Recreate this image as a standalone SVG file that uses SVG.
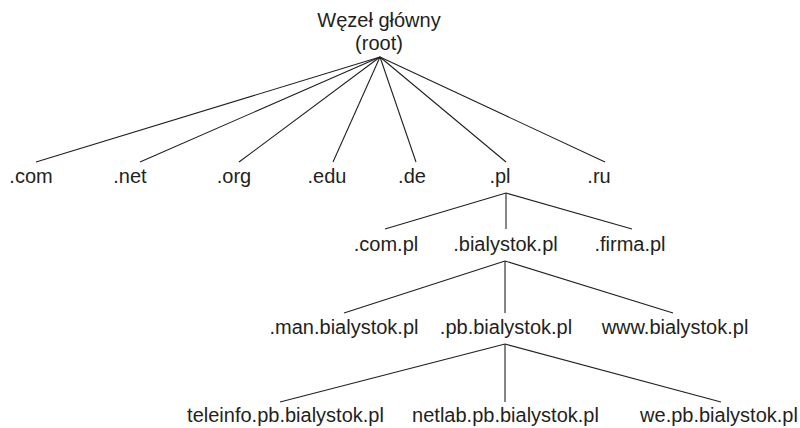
<svg xmlns="http://www.w3.org/2000/svg" width="800" height="428" viewBox="0 0 800 428">
<style>
text{font-family:"Liberation Sans",Arial,sans-serif;font-size:20px;fill:#231f20;text-anchor:middle}
line{stroke:#231f20;stroke-width:1.1;fill:none}
</style>
<rect width="800" height="428" fill="#ffffff"/>
<g id="connectors">
<line x1="380" y1="57" x2="36" y2="162"/>
<line x1="380" y1="57" x2="140" y2="162"/>
<line x1="380" y1="57" x2="239" y2="162"/>
<line x1="380" y1="57" x2="333" y2="162"/>
<line x1="380" y1="57" x2="416" y2="162"/>
<line x1="380" y1="57" x2="506" y2="162"/>
<line x1="380" y1="57" x2="605" y2="162"/>
<line x1="506" y1="193" x2="385" y2="229"/>
<line x1="506" y1="193" x2="506" y2="229"/>
<line x1="506" y1="193" x2="632" y2="229"/>
<line x1="505" y1="261" x2="344" y2="313"/>
<line x1="505" y1="261" x2="505" y2="313"/>
<line x1="505" y1="261" x2="673" y2="313"/>
<line x1="505" y1="344" x2="280" y2="402"/>
<line x1="505" y1="344" x2="505" y2="402"/>
<line x1="505" y1="344" x2="721" y2="402"/>
</g>
<g id="root"><text x="379" y="27">Węzeł główny</text><text x="379" y="49.5">(root)</text></g>
<g id="com"><text x="31" y="183">.com</text></g>
<g id="net"><text x="130" y="183">.net</text></g>
<g id="org"><text x="234" y="183">.org</text></g>
<g id="edu"><text x="327" y="183">.edu</text></g>
<g id="de"><text x="412" y="183">.de</text></g>
<g id="pl"><text x="500" y="183">.pl</text></g>
<g id="ru"><text x="599" y="183">.ru</text></g>
<g id="compl"><text x="386" y="251">.com.pl</text></g>
<g id="bialystok"><text x="505.5" y="251">.bialystok.pl</text></g>
<g id="firma"><text x="630" y="251">.firma.pl</text></g>
<g id="man"><text x="344" y="334">.man.bialystok.pl</text></g>
<g id="pb"><text x="506" y="334">.pb.bialystok.pl</text></g>
<g id="www"><text x="675" y="334">www.bialystok.pl</text></g>
<g id="teleinfo"><text x="285.5" y="422">teleinfo.pb.bialystok.pl</text></g>
<g id="netlab"><text x="505.5" y="422">netlab.pb.bialystok.pl</text></g>
<g id="we"><text x="719" y="422">we.pb.bialystok.pl</text></g>
</svg>
